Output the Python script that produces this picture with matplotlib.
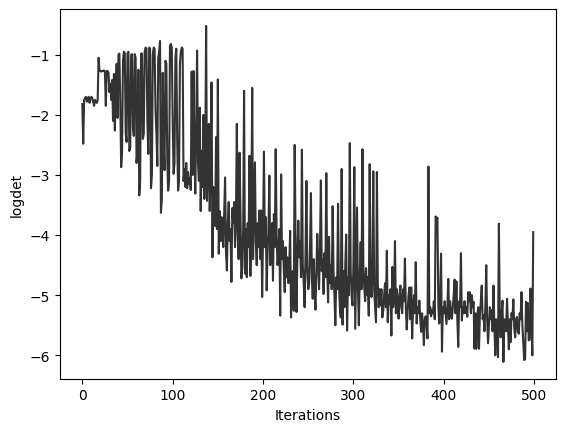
import matplotlib

matplotlib.use("Agg")
import matplotlib.pyplot as plt

# logdet per iteration (10 values per row)
logdet = [
    -1.82, -2.48, -1.75, -1.72, -1.70, -1.78, -1.72, -1.70, -1.80, -1.73,
    -1.70, -1.72, -1.78, -1.85, -1.75, -1.78, -1.80, -1.75, -1.05, -1.27,
    -1.27, -1.28, -1.27, -1.27, -1.26, -1.28, -1.85, -1.27, -1.27, -1.30,
    -1.62, -1.48, -1.75, -1.42, -2.10, -1.32, -2.26, -1.55, -1.15, -2.05,
    -1.00, -0.98, -1.80, -2.87, -2.60, -1.10, -0.95, -0.97, -2.30, -2.45,
    -0.98, -0.95, -2.60, -2.55, -1.00, -0.99, -2.20, -2.35, -0.99, -1.05,
    -2.80, -2.60, -1.25, -3.34, -3.10, -0.98, -0.98, -2.40, -2.31, -0.95,
    -0.88, -0.90, -2.10, -2.65, -0.88, -0.90, -3.22, -3.00, -1.00, -0.88,
    -0.90, -1.93, -2.30, -2.85, -1.05, -0.95, -0.77, -3.63, -3.40, -1.30,
    -2.50, -2.92, -1.10, -1.15, -2.75, -3.26, -3.10, -0.85, -0.82, -0.88,
    -2.10, -2.98, -2.80, -1.05, -0.90, -2.45, -3.26, -3.10, -1.15, -0.95,
    -0.88, -0.90, -3.10, -2.90, -3.20, -2.80, -3.22, -2.95, -3.15, -3.05,
    -3.25, -1.28, -3.00, -1.27, -2.50, -3.31, -2.20, -0.93, -2.80, -3.10,
    -1.88, -3.60, -2.60, -3.20, -2.00, -3.40, -2.80, -0.52, -3.43, -2.90,
    -2.15, -3.60, -2.80, -1.46, -4.37, -3.20, -3.70, -3.85, -2.37, -3.90,
    -1.41, -4.31, -3.60, -4.10, -3.70, -3.98, -4.20, -3.65, -3.04, -4.30,
    -4.59, -3.80, -3.45, -4.10, -3.90, -4.78, -3.55, -3.80, -3.45, -4.20,
    -3.70, -2.15, -4.00, -4.40, -2.63, -3.60, -4.72, -4.53, -3.90, -1.60,
    -4.64, -3.90, -4.70, -3.80, -4.20, -2.68, -4.68, -3.70, -1.55, -4.40,
    -3.60, -2.79, -4.10, -4.50, -3.80, -4.20, -3.59, -4.40, -3.59, -5.03,
    -4.00, -2.61, -4.20, -3.70, -4.92, -4.30, -3.90, -3.01, -4.50, -4.10,
    -3.80, -4.76, -3.65, -4.20, -2.57, -4.00, -4.50, -4.31, -3.90, -5.34,
    -2.99, -4.40, -4.10, -4.60, -4.95, -4.20, -4.70, -4.37, -4.80, -4.50,
    -3.93, -5.37, -4.60, -4.90, -5.26, -2.50, -4.10, -5.28, -4.40, -3.76,
    -4.37, -4.10, -4.70, -2.58, -4.50, -4.80, -5.20, -4.30, -3.10, -4.60,
    -4.90, -4.80, -4.20, -3.30, -4.70, -5.06, -4.40, -4.90, -5.24, -4.60,
    -3.98, -4.50, -4.90, -4.20, -3.09, -4.60, -4.40, -4.98, -4.30, -4.70,
    -2.97, -4.60, -5.12, -4.03, -4.80, -4.50, -4.90, -3.52, -4.60, -5.00,
    -5.50, -4.70, -4.90, -3.48, -4.80, -5.20, -5.37, -2.90, -5.49, -4.60,
    -5.20, -4.50, -3.99, -5.59, -4.70, -5.00, -2.47, -4.60, -5.00, -5.17,
    -4.50, -2.87, -5.56, -4.60, -3.54, -4.90, -5.50, -4.70, -4.12, -4.90,
    -2.57, -4.50, -4.87, -5.10, -4.55, -5.00, -4.70, -5.34, -2.82, -4.80,
    -5.03, -4.70, -2.94, -4.90, -5.20, -5.45, -2.95, -4.80, -5.20, -4.90,
    -5.17, -4.90, -5.37, -5.26, -5.00, -4.80, -5.20, -4.26, -5.45, -5.00,
    -5.15, -4.90, -5.67, -4.53, -5.20, -5.00, -4.10, -5.30, -4.90, -5.10,
    -5.39, -5.00, -4.84, -5.20, -5.30, -4.90, -5.10, -4.39, -5.20, -5.57,
    -5.30, -5.00, -4.87, -5.40, -4.87, -5.72, -5.20, -5.00, -5.30, -4.45,
    -5.47, -5.20, -5.30, -5.09, -5.40, -5.61, -5.30, -5.50, -5.83, -5.40,
    -5.35, -5.50, -5.72, -2.86, -5.30, -5.20, -5.35, -5.25, -5.30, -5.10,
    -5.40, -3.69, -3.75, -3.71, -5.20, -5.47, -5.00, -4.31, -5.94, -5.20,
    -5.30, -5.10, -5.30, -5.48, -5.20, -4.73, -5.40, -5.10, -5.30, -5.39,
    -5.20, -5.00, -4.74, -5.30, -4.77, -5.40, -5.86, -5.10, -5.20, -4.30,
    -5.42, -5.20, -5.30, -5.10, -5.30, -5.20, -5.36, -4.95, -5.10, -4.95,
    -5.30, -5.00, -5.20, -5.11, -5.89, -5.30, -5.89, -5.40, -5.20, -5.89,
    -5.30, -5.10, -4.84, -5.40, -5.33, -5.60, -5.20, -4.50, -5.40, -5.80,
    -5.50, -5.20, -5.40, -5.25, -5.60, -4.84, -5.50, -6.00, -5.40, -5.50,
    -6.03, -3.81, -5.40, -5.70, -5.30, -5.09, -6.11, -5.40, -5.50, -5.60,
    -5.06, -5.50, -5.90, -5.40, -5.78, -5.30, -5.40, -5.07, -5.55, -5.70,
    -5.40, -5.36, -5.60, -5.64, -5.30, -5.40, -4.95, -5.50, -5.79, -6.08,
    -6.06, -5.11, -5.60, -5.13, -5.75, -5.74, -4.89, -5.40, -6.00, -3.95,
]
iterations = list(range(len(logdet)))

fig, ax = plt.subplots(figsize=(6.4, 4.8), dpi=100)
ax.plot(iterations, logdet, color="#333333", linewidth=1.5)
ax.set_xlabel("Iterations")
ax.set_ylabel("logdet")

fig.savefig("out.png", dpi=100, bbox_inches="tight")
